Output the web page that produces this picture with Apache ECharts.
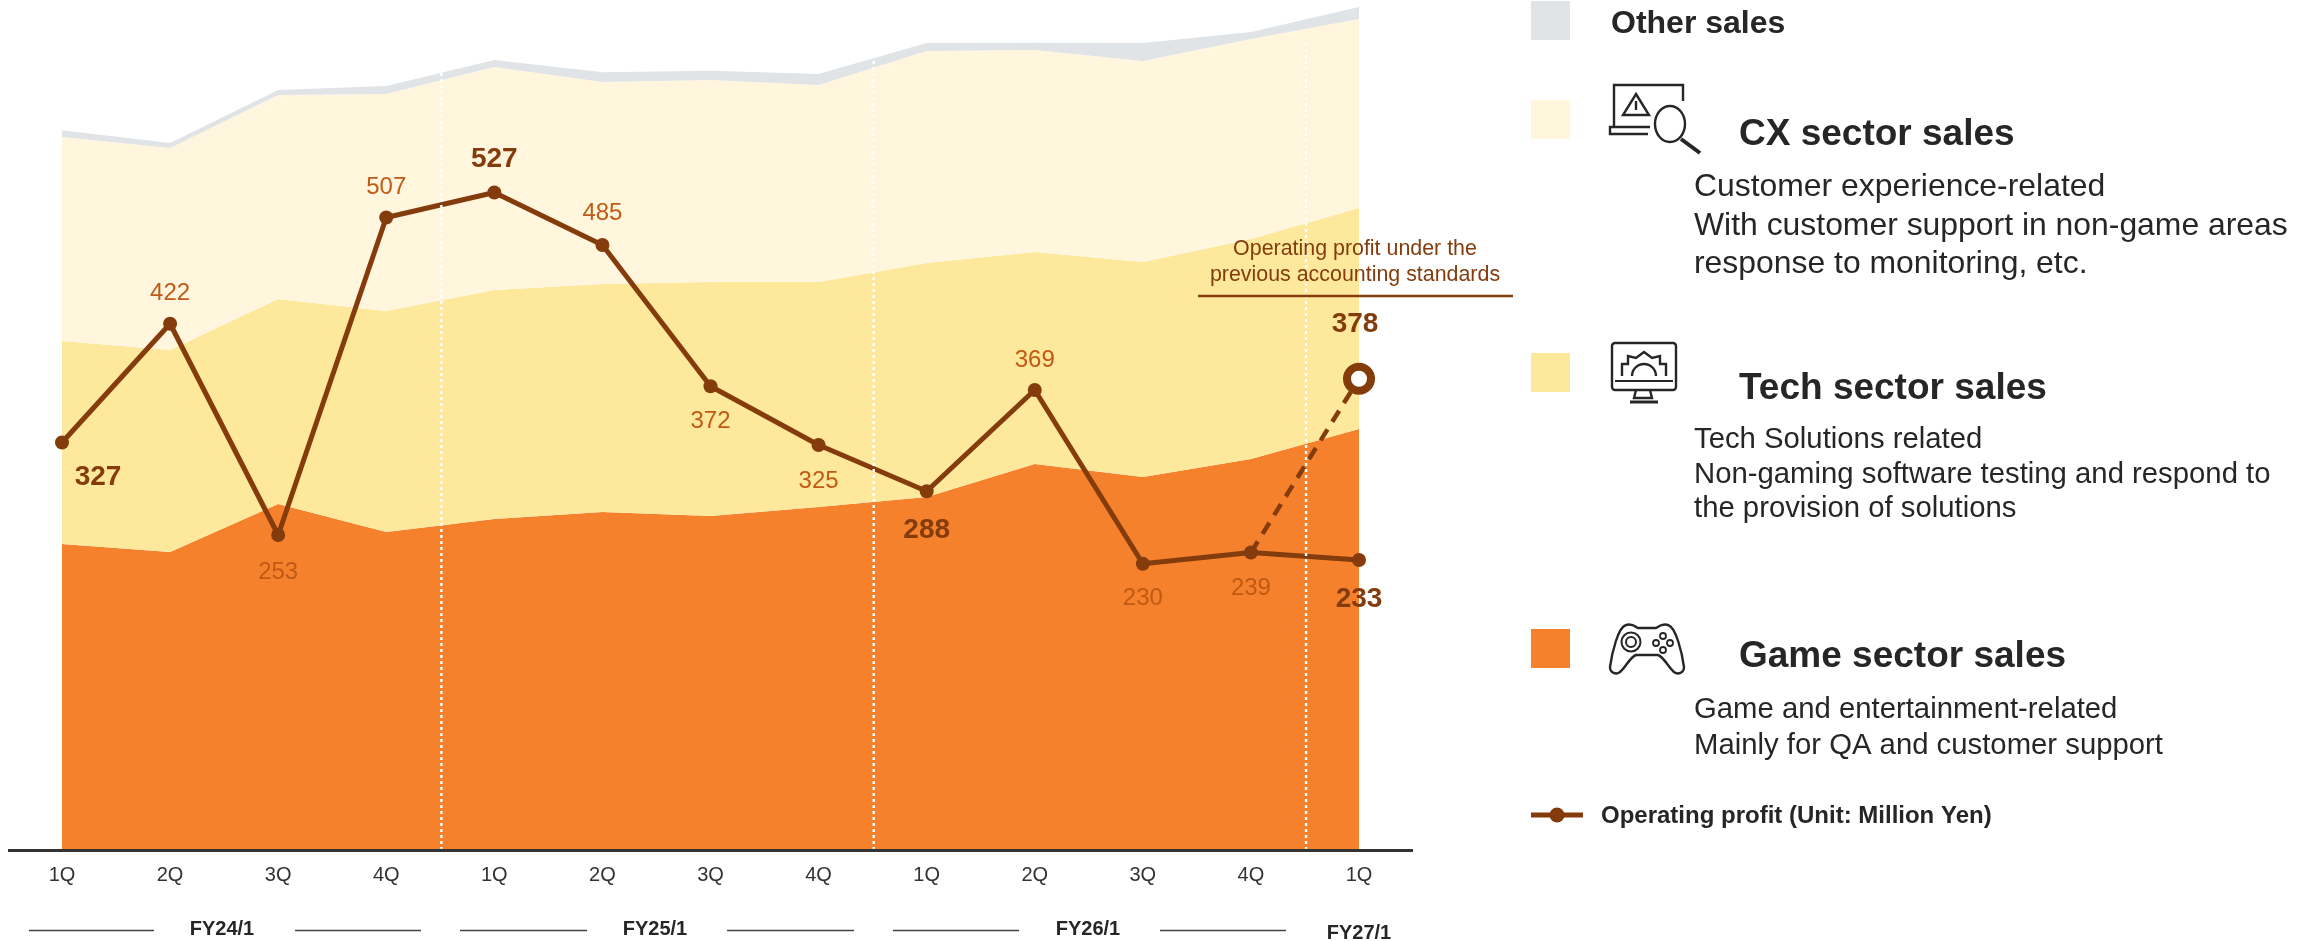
<!DOCTYPE html>
<html><head><meta charset="utf-8">
<style>html,body{margin:0;padding:0;background:#fff}#c{width:2313px;height:941px}</style>
<script src="https://cdn.jsdelivr.net/npm/echarts@6/dist/echarts.min.js"></script>
</head><body><div id="c"></div>
<script>
// ---------- data ----------
const quarters = ['1Q','2Q','3Q','4Q','1Q','2Q','3Q','4Q','1Q','2Q','3Q','4Q','1Q'];
// sales have no printed values: the figures are estimates read from the band heights
const gameSales  = [3672,3576,4152,3816,3972,4056,4008,4116,4236,4632,4476,4692,5052];
const techSales  = [2436,2424,2460,2652,2748,2736,2808,2700,2808,2544,2580,2640,2652];
const cxSales    = [2448,2424,2448,2604,2676,2424,2424,2364,2544,2424,2412,2400,2268];
const otherSales = [80,60,60,96,84,116,112,132,96,88,216,84,144];
const operatingProfit = [327,422,253,507,527,485,372,325,288,369,230,239,233];
const previousStandardProfit = [null,null,null,null,null,null,null,null,null,null,null,239,378];
const boldProfitIndexes = [0,4,8,12];
const fiscalBoundaries = [3.51,7.51,11.51];
const fiscalBoundaryTops = [9324,9504,9720];
const fiscalYears = ['FY24/1','FY25/1','FY26/1','FY27/1'];

// ---------- styling ----------
const FONT = '"Liberation Sans", Arial, sans-serif';
const BROWN = '#843C0C', LABEL = '#C05A14', INK = '#262626';
const C_GAME = '#F5812D', C_TECH = '#FEE89B', C_CX = '#FFF6DD', C_OTHER = '#E0E4E7';
const labelOffsets = [[36,35],[0,-30],[0,37],[0,-30],[0,-33],[0,-32],[0,35],[0,36],[0,39],[0,-30],[0,35],[0,36],[0,39]];

echarts.graphic.registerShape('gamepad', echarts.graphic.extendShape({
  shape:{x:0,y:0},
  buildPath(ctx, s){
    const x=s.x, y=s.y;
    const M=(a,b)=>ctx.moveTo(x+a,y+b), L=(a,b)=>ctx.lineTo(x+a,y+b),
          C=(a,b,c,d,e,f)=>ctx.bezierCurveTo(x+a,y+b,x+c,y+d,x+e,y+f);
    M(16,2); C(22,0,26,4,28,5); L(46,5); C(48,4,52,0,58,2); C(66,4,72,30,74,44);
    C(74,50,68,52,64,49); C(58,44,54,34,48,32); L(26,32); C(20,34,16,44,10,49);
    C(6,52,0,50,0,44); C(2,30,8,4,16,2); ctx.closePath();
  }
}));

function area(name, data, color){
  return {name, type:'line', stack:'sales', data, symbol:'none', silent:true,
    lineStyle:{width:0}, areaStyle:{color, opacity:1}, z:1};
}
const dividers = fiscalBoundaries.map((x,i)=>({
  type:'line', xAxisIndex:1, yAxisIndex:0, symbol:'none', silent:true, z:8,
  data:[[x,0],[x,fiscalBoundaryTops[i]]],
  lineStyle:{color:'#fff', width:2.4, type:[3,3]}
}));

function text(x,y,t,size,opt){
  opt = opt||{};
  return {type:'text', x, y:y+2, z:20, silent:true, style:{text:t, fill:opt.fill||INK, font:(opt.bold?'bold ':'')+size+'px '+FONT,
    textAlign:opt.align||'left', textVerticalAlign:'middle', textBaseline:'middle'}};
}
function rect(x,y,w,h,fill){ return {type:'rect', z:20, silent:true, shape:{x,y,width:w,height:h}, style:{fill}}; }
function hline(x1,x2,y,w,c){ return {type:'line', z:20, silent:true, shape:{x1,y1:y,x2,y2:y}, style:{stroke:c,lineWidth:w}}; }
const ICON = {stroke:INK, lineWidth:2.4, fill:'none'};
function ln(x1,y1,x2,y2,w){ return {type:'line', z:20, silent:true, shape:{x1,y1,x2,y2}, style:{stroke:INK,lineWidth:w||2.4}}; }
function circ(cx,cy,r,w){ return {type:'circle', z:20, silent:true, shape:{cx,cy,r}, style:{stroke:INK,lineWidth:w||2.4,fill:'none'}}; }
function poly(points,w){ return {type:'polyline', z:20, silent:true, shape:{points}, style:{stroke:INK,lineWidth:w||2.4,fill:'none'}}; }

const graphics = [
  hline(8,1413,850.5,3,'#333'),
  // fiscal year captions and rules
  text(222,927,fiscalYears[0],20,{bold:true,align:'center'}),
  text(655,927,fiscalYears[1],20,{bold:true,align:'center'}),
  text(1088,927,fiscalYears[2],20,{bold:true,align:'center'}),
  text(1359,931,fiscalYears[3],20,{bold:true,align:'center'}),
  hline(29,154,930.5,1.6,'#444'), hline(295,421,930.5,1.6,'#444'),
  hline(460,587,930.5,1.6,'#444'), hline(727,854,930.5,1.6,'#444'),
  hline(893,1019,930.5,1.6,'#444'), hline(1160,1286,930.5,1.6,'#444'),
  // annotation
  text(1355,247,'Operating profit under the',21.4,{fill:BROWN,align:'center'}),
  text(1355,273,'previous accounting standards',21.4,{fill:BROWN,align:'center'}),
  hline(1198,1513,296,2.6,BROWN),
  // legend swatches
  rect(1531,1,39,39,C_OTHER), rect(1531,100,39,39,C_CX), rect(1531,353,39,39,C_TECH), rect(1531,629,39,39,C_GAME),
  // legend text
  text(1611,22.5,'Other sales',32,{bold:true}),
  text(1739,132.5,'CX sector sales',37,{bold:true}),
  text(1694,185.5,'Customer experience-related',31.9),
  text(1694,224.5,'With customer support in non-game areas',31.9),
  text(1694,262.5,'response to monitoring, etc.',31.9),
  text(1739,386.5,'Tech sector sales',37,{bold:true}),
  text(1694,438,'Tech Solutions related',29.3),
  text(1694,473,'Non-gaming software testing and respond to',29.3),
  text(1694,507,'the provision of solutions',29.3),
  text(1739,654.5,'Game sector sales',37,{bold:true}),
  text(1694,708,'Game and entertainment-related',29.3),
  text(1694,743.5,'Mainly for QA and customer support',29.3),
  hline(1531,1583,815,5,BROWN),
  {type:'circle', z:21, silent:true, shape:{cx:1557,cy:815,r:7.5}, style:{fill:BROWN}},
  text(1601,814,'Operating profit (Unit: Million Yen)',24,{bold:true}),
  // CX icon: laptop, warning triangle, magnifier
  poly([[1614,127],[1614,85],[1683,85],[1683,101]]),
  poly([[1650,127],[1610,127],[1610,134],[1648,134]]),
  {type:'polygon', z:20, silent:true, shape:{points:[[1636,94],[1649,115],[1623,115]]}, style:ICON},
  ln(1636,101,1636,110),
  {type:'ellipse', z:20, silent:true, shape:{cx:1670,cy:124,rx:15,ry:18}, style:ICON},
  ln(1681,139,1700,153,4),
  // Tech icon: monitor with gear
  {type:'rect', z:20, silent:true, shape:{x:1612,y:343,width:64,height:47,r:3}, style:ICON},
  ln(1615,381,1673,381,2),
  poly([[1636,390],[1634,398],[1652,398],[1650,390]]),
  ln(1630,402,1658,402,3),
  poly([[1622,376],[1622,364],[1628,364],[1628,356],[1636,358],[1644,352],[1652,358],[1660,356],[1660,364],[1666,364],[1666,376]]),
  {type:'arc', z:20, silent:true, shape:{cx:1644,cy:376,r:12,startAngle:Math.PI,endAngle:0,clockwise:true}, style:{stroke:INK,lineWidth:2.4,fill:'none'}},
  // Game icon: controller
  {type:'gamepad', z:20, silent:true, shape:{x:1610,y:623}, style:ICON},
  circ(1631,642,9.5,2), circ(1631,642,5,2),
  circ(1663,636,3,1.8), circ(1663,650,3,1.8), circ(1656,643,3,1.8), circ(1670,643,3,1.8)
];

const chart = echarts.init(document.getElementById('c'), null, {renderer:'canvas'});
chart.setOption({
  animation:false,
  backgroundColor:'#fff',
  textStyle:{fontFamily:FONT},
  grid:{left:62, right:954, top:0, bottom:91, containLabel:false},
  xAxis:[
    {type:'category', data:quarters, boundaryGap:false,
      axisLine:{show:false}, axisTick:{show:false}, splitLine:{show:false},
      axisLabel:{interval:0, margin:15, color:'#333', fontSize:20, fontFamily:FONT}},
    {type:'value', show:false, min:0, max:12, splitLine:{show:false}}
  ],
  yAxis:[
    {type:'value', show:false, min:0, max:10200, splitLine:{show:false}},
    {type:'value', show:false, min:1, max:681, splitLine:{show:false}}
  ],
  series:[
    area('Game sector sales', gameSales, C_GAME),
    area('Tech sector sales', techSales, C_TECH),
    area('CX sector sales', cxSales, C_CX),
    area('Other sales', otherSales, C_OTHER),
    {name:'Operating profit (previous standards)', type:'line', yAxisIndex:1, z:5, silent:true,
      data:previousStandardProfit.map((v,i)=> i===12 ? {value:v, symbol:'circle', symbolSize:24,
          itemStyle:{color:'#fff', borderColor:BROWN, borderWidth:8},
          label:{show:true, position:'inside', offset:[-4,-54], formatter:'{c}', color:BROWN, fontWeight:'bold', fontSize:28, fontFamily:FONT}}
        : {value:v, symbol:'none'}),
      lineStyle:{color:BROWN, width:4.5, type:[13,9]}, connectNulls:false},
    {name:'Operating profit', type:'line', yAxisIndex:1, z:6, silent:true,
      data:operatingProfit.map((v,i)=>{
        const bold = boldProfitIndexes.includes(i);
        return {value:v, label:{show:true, position:'inside', offset:labelOffsets[i], formatter:'{c}',
          color:bold?BROWN:LABEL, fontWeight:bold?'bold':'normal', fontSize:bold?28:24, fontFamily:FONT}};
      }),
      symbol:'circle', symbolSize:14, itemStyle:{color:BROWN}, lineStyle:{color:BROWN, width:5}},
    ...dividers
  ],
  graphic:{elements:graphics}
});
</script></body></html>
